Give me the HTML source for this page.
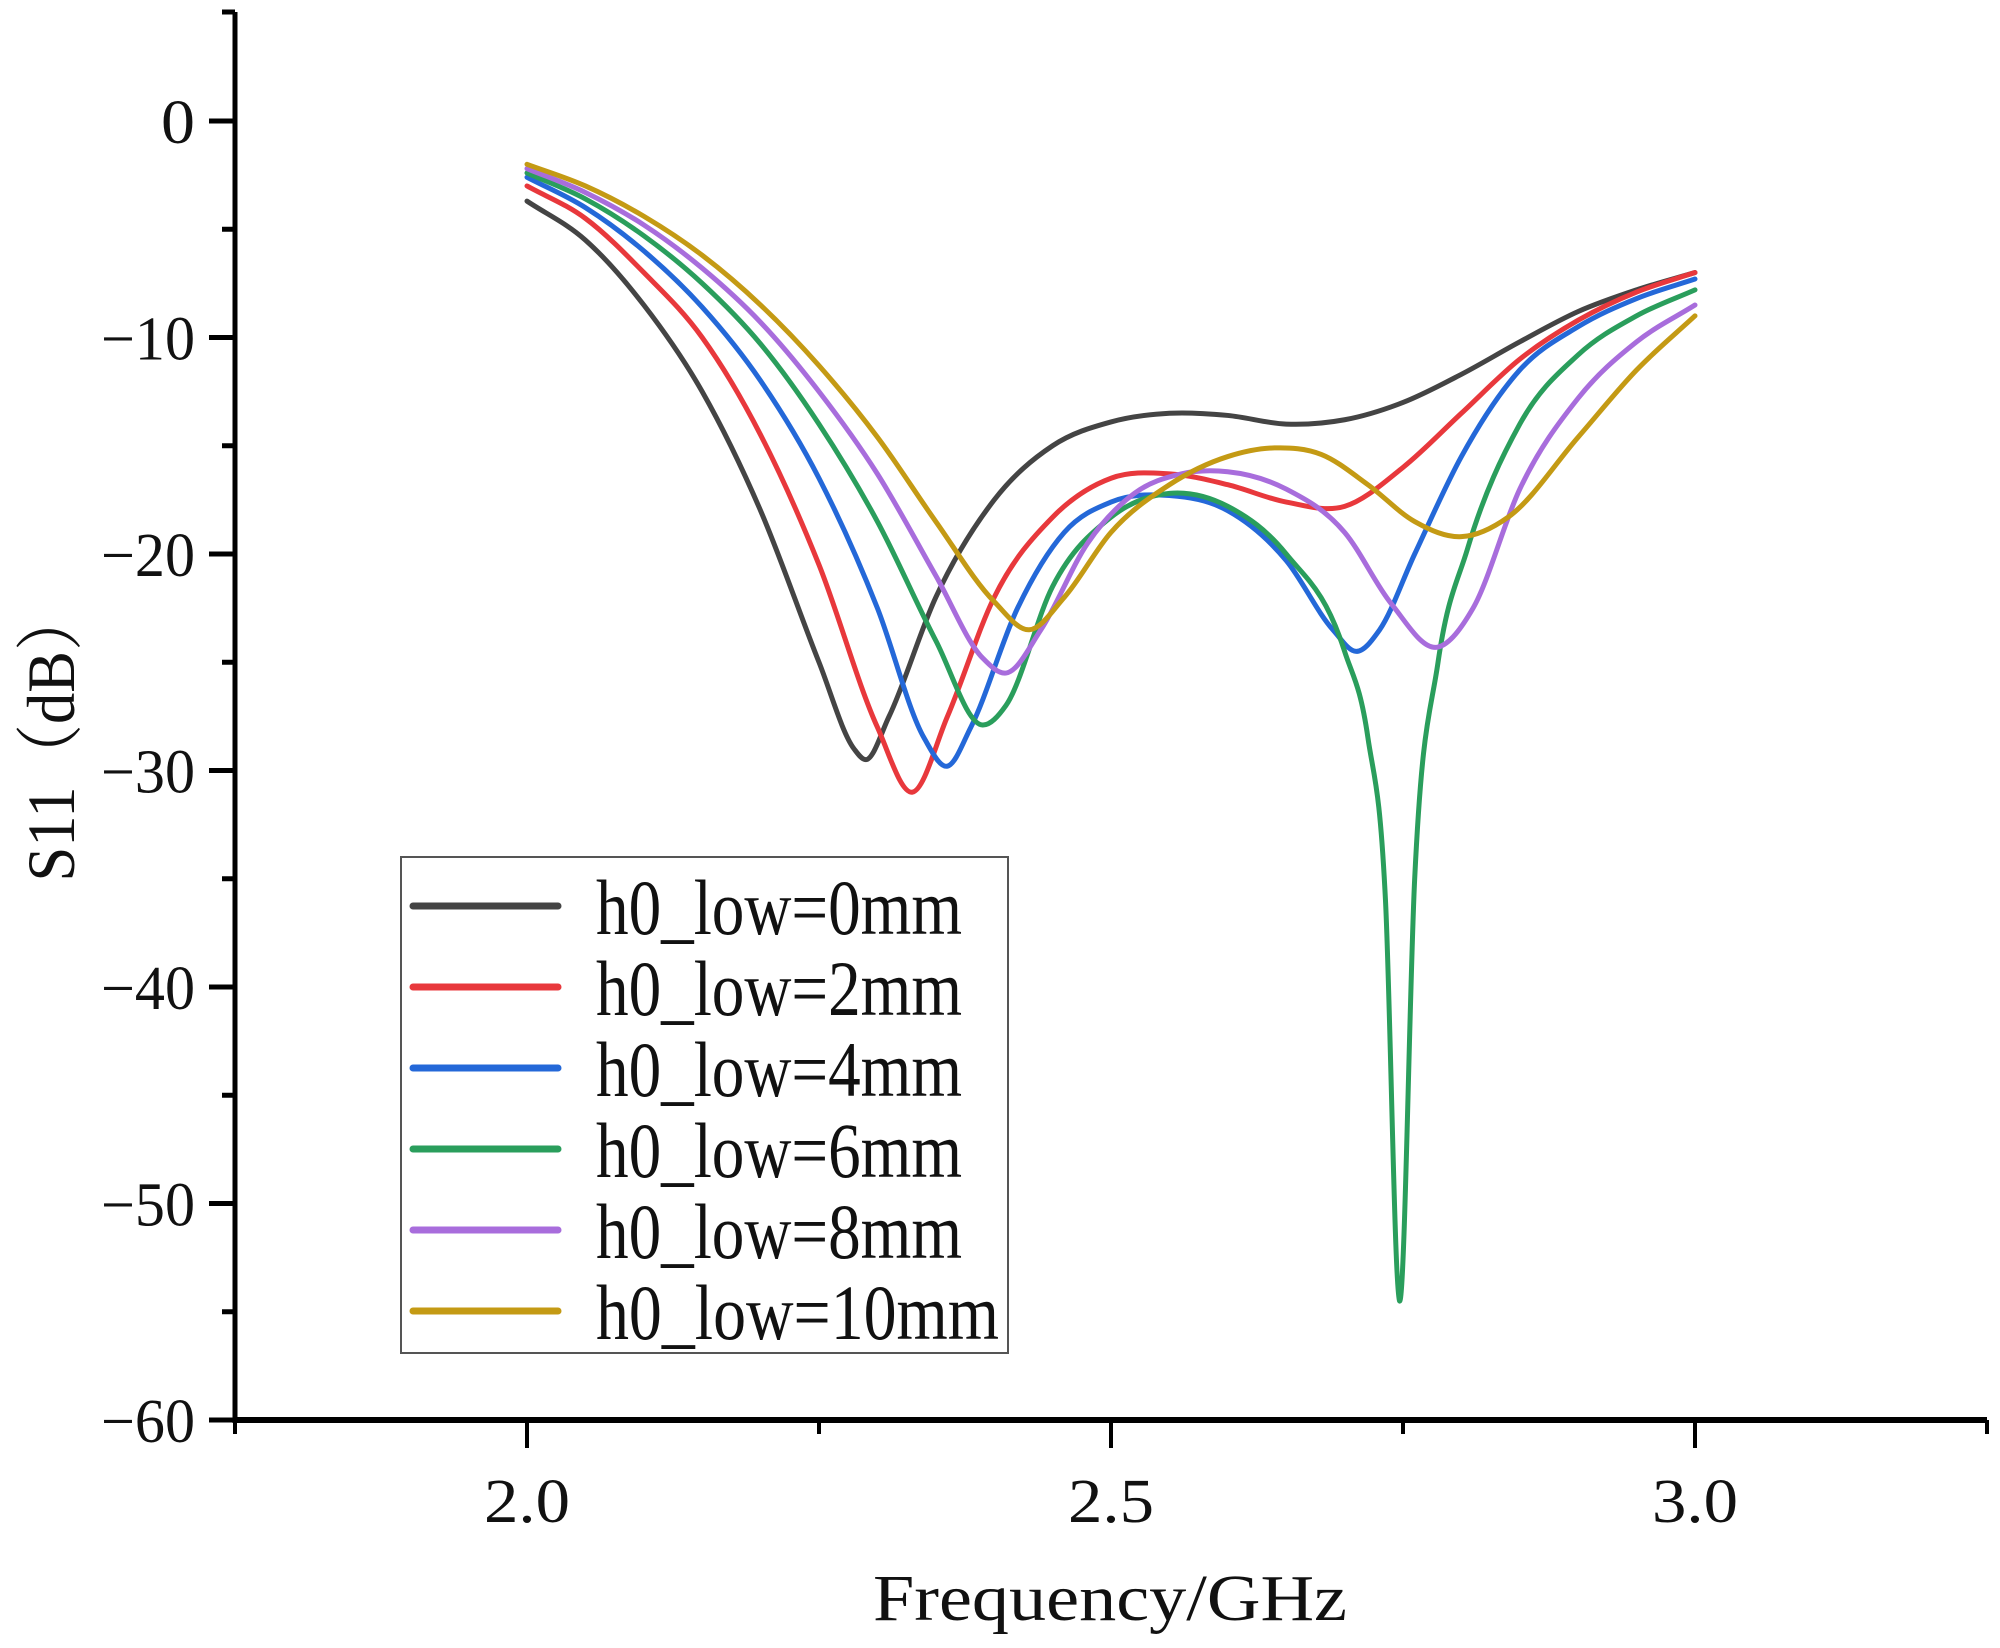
<!DOCTYPE html>
<html><head><meta charset="utf-8"><style>
html,body{margin:0;padding:0;background:#fff;}
svg{display:block;}
text{font-family:"Liberation Serif","Noto Serif CJK SC",serif;fill:#111;}
</style></head><body>
<svg id="chart" width="2000" height="1648" viewBox="0 0 2000 1648" xmlns="http://www.w3.org/2000/svg">
<g id="axes"></g>
<g id="series"></g>
<g id="legend"></g>
<text x="1110" y="1620" font-size="66" text-anchor="middle" textLength="474" lengthAdjust="spacingAndGlyphs">Frequency/GHz</text>
<text transform="translate(74,735) rotate(-90)" font-size="68" text-anchor="middle" textLength="293" lengthAdjust="spacingAndGlyphs">S11（dB）</text>
</svg>
<script>
const xTicks = [2.0, 2.5, 3.0];
const xTickLabels = ["2.0", "2.5", "3.0"];
const xMinorTicks = [1.75, 2.25, 2.75, 3.25];
const yTicks = [0, -10, -20, -30, -40, -50, -60];
const yTickLabels = ["0", "−10", "−20", "−30", "−40", "−50", "−60"];
const yMinorTicks = [-5, -15, -25, -35, -45, -55];
const seriesNames = ["h0_low=0mm","h0_low=2mm","h0_low=4mm","h0_low=6mm","h0_low=8mm","h0_low=10mm"];
const seriesColors = ["#444444","#e8383c","#2468d8","#2a9e5c","#a86ddc","#c49a14"];
const s0 = [[2.0,-3.7],[2.05,-5.5],[2.1,-8.5],[2.15,-12.5],[2.2,-18],[2.25,-25],[2.28,-29],[2.29,-29.5],[2.31,-27.5],[2.35,-22],[2.4,-17.5],[2.45,-15],[2.5,-13.9],[2.55,-13.5],[2.6,-13.6],[2.65,-14],[2.7,-13.8],[2.75,-13],[2.8,-11.7],[2.85,-10.2],[2.9,-8.8],[2.95,-7.8],[3.0,-7.0]];
const s2 = [[2.0,-3.0],[2.05,-4.5],[2.1,-7],[2.15,-10],[2.2,-14.5],[2.25,-20.5],[2.3,-28],[2.33,-31],[2.36,-27.5],[2.4,-22],[2.45,-18.3],[2.5,-16.5],[2.55,-16.3],[2.6,-16.8],[2.65,-17.6],[2.7,-17.8],[2.75,-16],[2.8,-13.5],[2.85,-11],[2.9,-9.2],[2.95,-7.9],[3.0,-7.0]];
const s4 = [[2.0,-2.6],[2.05,-4],[2.1,-6],[2.15,-8.6],[2.2,-12],[2.25,-16.5],[2.3,-22.5],[2.34,-28.5],[2.36,-29.8],[2.38,-28],[2.42,-22.5],[2.46,-19],[2.5,-17.6],[2.55,-17.3],[2.6,-18],[2.65,-20.3],[2.69,-23.5],[2.71,-24.5],[2.73,-23.5],[2.76,-20],[2.8,-15.5],[2.85,-11.5],[2.9,-9.5],[2.95,-8.2],[3.0,-7.3]];
const s6 = [[2.0,-2.4],[2.05,-3.6],[2.1,-5.3],[2.15,-7.5],[2.2,-10.3],[2.25,-14],[2.3,-18.5],[2.35,-24],[2.39,-27.9],[2.41,-27],[2.45,-21.5],[2.5,-18.3],[2.55,-17.2],[2.6,-17.8],[2.65,-20],[2.7,-24.5],[2.72,-28.5],[2.735,-36],[2.747,-54.5],[2.76,-35],[2.78,-25],[2.805,-19.8],[2.85,-14],[2.9,-10.8],[2.95,-9],[3.0,-7.8]];
const s8 = [[2.0,-2.2],[2.05,-3.3],[2.1,-4.8],[2.15,-6.8],[2.2,-9.3],[2.25,-12.5],[2.3,-16.3],[2.35,-21],[2.39,-24.8],[2.41,-25.5],[2.44,-23.5],[2.48,-19.5],[2.52,-17.2],[2.56,-16.3],[2.6,-16.2],[2.65,-17],[2.7,-19],[2.74,-22.3],[2.78,-24.3],[2.81,-22.5],[2.85,-17],[2.9,-12.8],[2.95,-10.2],[3.0,-8.5]];
const s10 = [[2.0,-2.0],[2.05,-3.0],[2.1,-4.4],[2.15,-6.2],[2.2,-8.5],[2.25,-11.3],[2.3,-14.6],[2.35,-18.5],[2.4,-22.2],[2.43,-23.5],[2.46,-22],[2.5,-19],[2.55,-16.8],[2.6,-15.5],[2.64,-15.1],[2.68,-15.4],[2.72,-16.8],[2.76,-18.5],[2.8,-19.2],[2.84,-18.3],[2.9,-14.6],[2.95,-11.5],[3.0,-9.0]];
const allSeries = [s0,s2,s4,s6,s8,s10];

const NS = "http://www.w3.org/2000/svg";
const X0 = 235, X1 = 1987, XMIN = 1.75, XMAX = 3.25;
const Y0 = 121, PXDB = 21.65;
function sx(v){ return X0 + (v - XMIN) / (XMAX - XMIN) * (X1 - X0); }
function sy(v){ return Y0 - v * PXDB; }
function mk(tag, attrs, parent){ const e = document.createElementNS(NS, tag); for (const k in attrs) e.setAttribute(k, attrs[k]); parent.appendChild(e); return e; }

const axes = document.getElementById('axes');
const yAxis = mk('line', {x1:X0, y1:12, x2:X0, y2:sy(-60)+3, stroke:'#000','stroke-width':5}, axes);


const xAxis = mk('line', {x1:X0-2, y1:sy(-60), x2:X1, y2:sy(-60), stroke:'#000','stroke-width':6}, axes);


mk('line', {x1:X0-13, y1:12, x2:X0, y2:12, stroke:'#000','stroke-width':5}, axes);

yTicks.forEach((v, i) => {
  const t = mk('line', {x1:X0-26, y1:sy(v), x2:X0, y2:sy(v), stroke:'#000','stroke-width':5}, axes);
  
  
  const lab = yTickLabels[i];
  const l = mk('text', {x:X0-40, y:sy(v)+22, 'font-size':62, 'text-anchor':'end', textLength: lab.length===1 ? 34 : 94, lengthAdjust:'spacingAndGlyphs'}, axes);
  l.textContent = lab;
  
  
});
yMinorTicks.forEach(v => {
  const t = mk('line', {x1:X0-13, y1:sy(v), x2:X0, y2:sy(v), stroke:'#000','stroke-width':5}, axes);
  
  
});
xTicks.forEach((v, i) => {
  const t = mk('line', {x1:sx(v), y1:sy(-60), x2:sx(v), y2:sy(-60)+28, stroke:'#000','stroke-width':4}, axes);
  
  
  const l = mk('text', {x:sx(v), y:sy(-60)+102, 'font-size':62, 'text-anchor':'middle', textLength:86, lengthAdjust:'spacingAndGlyphs'}, axes);
  l.textContent = xTickLabels[i];
  
  
});
xMinorTicks.forEach(v => {
  const t = mk('line', {x1:sx(v), y1:sy(-60), x2:sx(v), y2:sy(-60)+14, stroke:'#000','stroke-width':4}, axes);
  
  
});

// smooth non-uniform Hermite spline in data space
function pathFor(pts){
  const n = pts.length;
  const m = [];
  for (let i = 0; i < n; i++) {
    if (i === 0) m.push((pts[1][1]-pts[0][1])/(pts[1][0]-pts[0][0]));
    else if (i === n-1) m.push((pts[n-1][1]-pts[n-2][1])/(pts[n-1][0]-pts[n-2][0]));
    else {
      const h0 = pts[i][0]-pts[i-1][0], h1 = pts[i+1][0]-pts[i][0];
      const d0 = (pts[i][1]-pts[i-1][1])/h0, d1 = (pts[i+1][1]-pts[i][1])/h1;
      m.push((h1*d0 + h0*d1)/(h0+h1));
    }
  }
  let s = 'M' + sx(pts[0][0]).toFixed(2) + ',' + sy(pts[0][1]).toFixed(2);
  for (let i = 0; i < n-1; i++) {
    const h = pts[i+1][0]-pts[i][0];
    const c1x = pts[i][0] + h/3, c1y = pts[i][1] + m[i]*h/3;
    const c2x = pts[i+1][0] - h/3, c2y = pts[i+1][1] - m[i+1]*h/3;
    s += ' C' + sx(c1x).toFixed(2) + ',' + sy(c1y).toFixed(2) + ' ' + sx(c2x).toFixed(2) + ',' + sy(c2y).toFixed(2) + ' ' + sx(pts[i+1][0]).toFixed(2) + ',' + sy(pts[i+1][1]).toFixed(2);
  }
  return s;
}
const sg = document.getElementById('series');
allSeries.forEach((pts, i) => {
  const p = mk('path', {d:pathFor(pts), fill:'none', stroke:seriesColors[i], 'stroke-width':5, 'stroke-linejoin':'round', 'stroke-linecap':'round'}, sg);
  
  
});

const lg = document.getElementById('legend');
const box = mk('rect', {x:401, y:857, width:607, height:496, fill:'#fff', stroke:'#555', 'stroke-width':2}, lg);


const rowsY = [906, 987, 1068, 1149, 1230, 1311];
seriesNames.forEach((n, i) => {
  const g = mk('g', {}, lg);
  
  
  mk('line', {x1:413, y1:rowsY[i], x2:558, y2:rowsY[i], stroke:seriesColors[i], 'stroke-width':7, 'stroke-linecap':'round'}, g);
  const t = mk('text', {x:596, y:rowsY[i]+28, 'font-size':78, textLength: n.length===11 ? 403 : 366, lengthAdjust:'spacingAndGlyphs'}, g);
  t.textContent = n;
});
</script>
</body></html>
